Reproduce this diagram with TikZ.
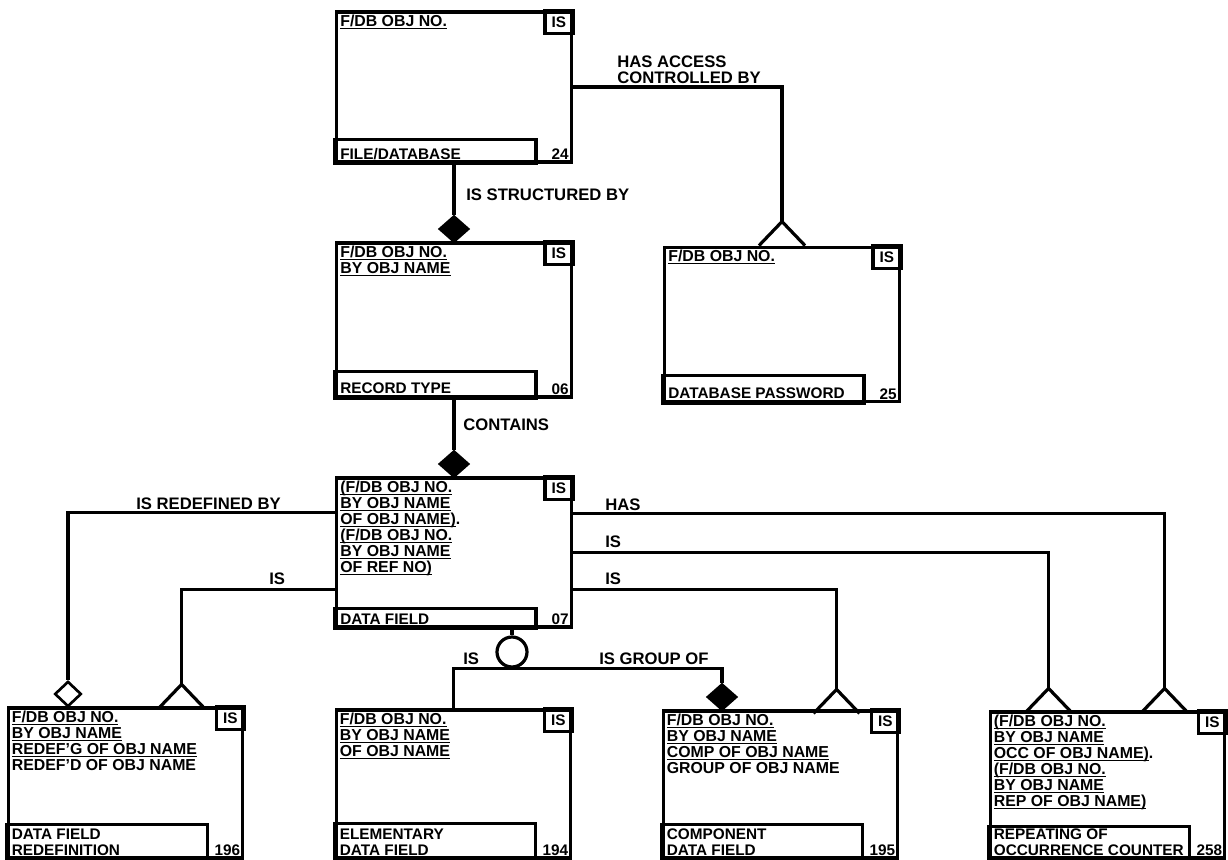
\documentclass[tikz,border=0pt]{standalone}
\usepackage{fontspec}
\setmainfont{Liberation Sans}
\usetikzlibrary{shapes.geometric}
\usetikzlibrary{calc}

% underlined key line with no depth
\newcommand\keyln[1]{\underline{\raisebox{0pt}[\height][0pt]{#1}}}

\tikzset{
  entbox/.style={draw, line width=2.4pt, minimum width=176pt, inner sep=0pt},
  conn/.style={line width=2.4pt},
  lbl/.style={font=\fontsize{12.5}{12}\selectfont\bfseries, inner sep=0.75pt, align=left},
  boxtxt/.style={font=\fontsize{11.9}{12}\selectfont\bfseries, inner sep=0.75pt, align=left,
    execute at begin node={\lineskiplimit=-20pt\lineskip=0pt\relax}},
  titletxt/.style={font=\fontsize{11.5}{11.8}\selectfont\bfseries, inner sep=0.75pt, align=left},
  reldia/.style={diamond, draw, line width=2pt, fill=black, minimum width=22pt, minimum height=19.5pt, inner sep=0pt},
}

\begin{document}
\begin{tikzpicture}[x=0.75pt,y=0.75pt,yscale=-1,xscale=1]
\useasboundingbox (0,0) rectangle (1228,860);

%Shape: Rectangle [entity boxes]
\node[entbox, minimum height=112.5pt] (file) at (454,87) {};
\node[entbox, minimum height=115.5pt] (rec) at (454,320) {};
\node[entbox, minimum height=116pt] (pass) at (782,324.5) {};
\node[entbox, minimum height=111.75pt] (dfield) at (454,552.5) {};
\node[entbox, minimum height=112.5pt] (redef) at (125.5,783) {};
\node[entbox, minimum height=111pt] (elem) at (453.5,784) {};
\node[entbox, minimum height=110.25pt] (comp) at (780.5,784.5) {};
\node[entbox, minimum height=109.5pt] (rep) at (1107.5,785) {};

%Shape: name cell, number and key cell of each box
\foreach \bx/\h/\num in {file/24/24, rec/27/06, pass/28/25, dfield/20/07, redef/35/196, elem/36/194, comp/35/195, rep/33/258}{
  \draw[conn] (\bx.south west) rectangle ($(\bx.south east)+(-37,-\h)$);
  \node[titletxt, anchor=south east] (\bx-num) at ($(\bx.south east)+(-3,-3)$) {\num};
  \draw[conn] ($(\bx.north east)+(-28,0)$) rectangle ($(\bx.north east)+(0,23)$);
  \node[titletxt] (\bx-key) at ($(\bx.north east)+(-14,11.5)$) {IS};
}

% Text Node
\node[boxtxt, anchor=north west] (file-hd) at ($(file.north west)+(4,3)$) {\keyln{F/DB OBJ NO.}};
\node[titletxt, anchor=south west] (file-ti) at ($(file.south west)+(4,-3)$) {FILE/DATABASE};
% Text Node
\node[boxtxt, anchor=north west] (rec-hd) at ($(rec.north west)+(4,3)$) {\keyln{F/DB OBJ NO.}\\\keyln{BY OBJ NAME}};
\node[titletxt, anchor=south west] (rec-ti) at ($(rec.south west)+(4,-4)$) {RECORD TYPE};
% Text Node
\node[boxtxt, anchor=north west] (pass-hd) at ($(pass.north west)+(4,3)$) {\keyln{F/DB OBJ NO.}};
\node[titletxt, anchor=south west] (pass-ti) at ($(pass.south west)+(4,-4)$) {DATABASE PASSWORD};
% Text Node
\node[boxtxt, anchor=north west] (dfield-hd) at ($(dfield.north west)+(4,3)$) {\keyln{(F/DB OBJ NO.}\\\keyln{BY OBJ NAME}\\\keyln{OF OBJ NAME)}.\\\keyln{(F/DB OBJ NO.}\\\keyln{BY OBJ NAME}\\\keyln{OF REF NO)}};
\node[titletxt, anchor=south west] (dfield-ti) at ($(dfield.south west)+(4,-3)$) {DATA FIELD};
% Text Node
\node[boxtxt, anchor=north west] (redef-hd) at ($(redef.north west)+(4,3)$) {\keyln{F/DB OBJ NO.}\\\keyln{BY OBJ NAME}\\\keyln{REDEF'G OF OBJ NAME}\\REDEF'D OF OBJ NAME};
\node[titletxt, anchor=south west] (redef-ti) at ($(redef.south west)+(4,-3)$) {DATA FIELD\\REDEFINITION};
% Text Node
\node[boxtxt, anchor=north west] (elem-hd) at ($(elem.north west)+(4,3)$) {\keyln{F/DB OBJ NO.}\\\keyln{BY OBJ NAME}\\\keyln{OF OBJ NAME}};
\node[titletxt, anchor=south west] (elem-ti) at ($(elem.south west)+(4,-3)$) {ELEMENTARY\\DATA FIELD};
% Text Node
\node[boxtxt, anchor=north west] (comp-hd) at ($(comp.north west)+(4,3)$) {\keyln{F/DB OBJ NO.}\\\keyln{BY OBJ NAME}\\\keyln{COMP OF OBJ NAME}\\GROUP OF OBJ NAME};
\node[titletxt, anchor=south west] (comp-ti) at ($(comp.south west)+(4,-3)$) {COMPONENT\\DATA FIELD};
% Text Node
\node[boxtxt, anchor=north west] (rep-hd) at ($(rep.north west)+(4,3)$) {\keyln{(F/DB OBJ NO.}\\\keyln{BY OBJ NAME}\\\keyln{OCC OF OBJ NAME)}.\\\keyln{(F/DB OBJ NO.}\\\keyln{BY OBJ NAME}\\\keyln{REP OF OBJ NAME)}};
\node[titletxt, anchor=south west] (rep-ti) at ($(rep.south west)+(4,-3)$) {REPEATING OF\\OCCURRENCE COUNTER};

%Shape: Diamond / Circle [relationship ends]
\node[reldia] (dstruct) at (454,229) {};
\node[reldia] (dcont) at (454,464) {};
\node[reldia, fill=white, minimum width=20pt, minimum height=19pt] (dredef) at (68,694) {};
\node[reldia] (dgroup) at (722,697) {};
\node[circle, draw, line width=2.4pt, fill=white, minimum size=22.5pt, inner sep=0pt] (circ) at (512,652) {};

% crow's feet
\coordinate (cf-pass) at ($(pass.north)+(0,-24)$);
\coordinate (cf-redef) at ($(redef.north west)+(175,-22)$);
\coordinate (cf-comp) at ($(comp.north west)+(175,-20)$);
\coordinate (cf-rep) at ($(rep.north west)+(60,-22)$);
\coordinate (cf-has) at ($(rep.north west)+(176,-22)$);
\foreach \cf in {cf-pass, cf-redef, cf-comp, cf-rep, cf-has}{
  \draw[conn, line join=miter] ($(\cf)+(-23,24)$) -- (\cf) -- ($(\cf)+(23,24)$);
}

%Straight Lines [connectors]
\draw[conn] (file.south) -- (dstruct.north);
\draw[conn] (file.east) -| (cf-pass);
\draw[conn] (rec.south) -- (dcont.north);
\draw[conn] ($(dfield.north west)+(0,36)$) -| (dredef.north);
\draw[conn] ($(dfield.south west)+(0,-39)$) -| (cf-redef);
\draw[conn] (circ.north |- dfield.south) -- (circ.north);
\draw[conn] (elem.north) |- (circ.south) -| (dgroup.north);
\draw[conn] ($(dfield.north east)+(0,37)$) -| (cf-has);
\draw[conn] (dfield.east) -| (cf-rep);
\draw[conn] ($(dfield.south east)+(0,-39)$) -| (cf-comp);

% Text Node [relationship labels]
\node[lbl, anchor=west] (l-struct) at (465,195) {IS STRUCTURED BY};
\node[lbl, anchor=south west] (l-access) at (616,85) {HAS ACCESS\\CONTROLLED BY};
\node[lbl, anchor=west] (l-cont) at (462,425) {CONTAINS};
\node[lbl, anchor=south west] (l-redef) at (135,511) {IS REDEFINED BY};
\node[lbl, anchor=south west] (l-isrd) at (268,586) {IS};
\node[lbl, anchor=south west] (l-has) at (604,512) {HAS};
\node[lbl, anchor=south west] (l-isrep) at (604,549) {IS};
\node[lbl, anchor=south west] (l-iscomp) at (604,586) {IS};
\node[lbl, anchor=south west] (l-iselem) at (462,666) {IS};
\node[lbl, anchor=south west] (l-group) at (598,666) {IS GROUP OF};

\end{tikzpicture}
\end{document}
